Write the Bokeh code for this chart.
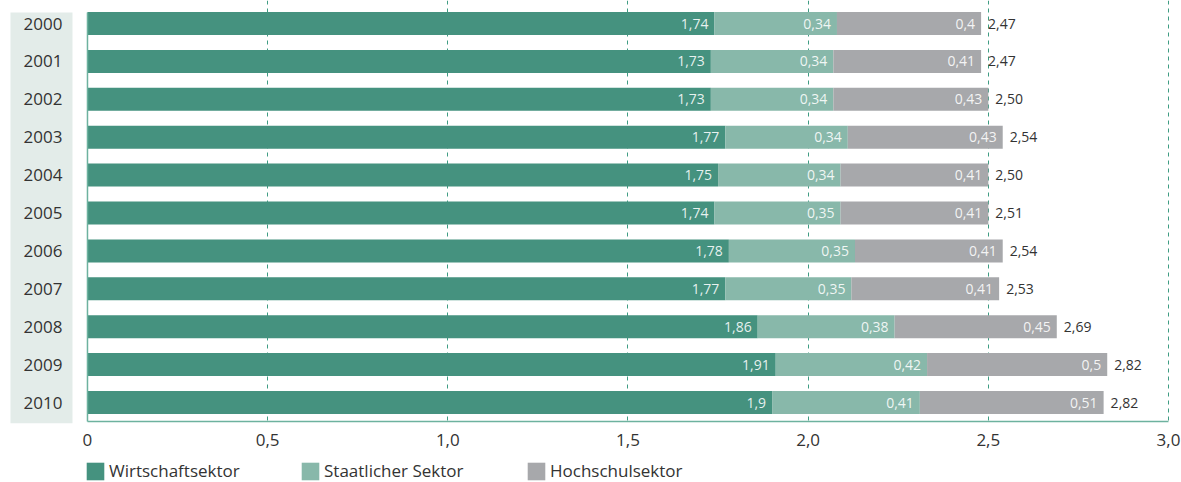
from bokeh.plotting import figure
from bokeh.layouts import column
from bokeh.models import ColumnDataSource, Range1d, FixedTicker, Legend, LegendItem, CustomJSTickFormatter
from bokeh.core.properties import value
from bokeh.embed import file_html
from bokeh.resources import INLINE

# ---- data ----
years = ["2000", "2001", "2002", "2003", "2004", "2005", "2006", "2007", "2008", "2009", "2010"]
wirtschaft = [1.74, 1.73, 1.73, 1.77, 1.75, 1.74, 1.78, 1.77, 1.86, 1.91, 1.90]
staat = [0.34, 0.34, 0.34, 0.34, 0.34, 0.35, 0.35, 0.35, 0.38, 0.42, 0.41]
hochschule = [0.40, 0.41, 0.43, 0.43, 0.41, 0.41, 0.41, 0.41, 0.45, 0.50, 0.51]
totals = ["2,47", "2,47", "2,50", "2,54", "2,50", "2,51", "2,54", "2,53", "2,69", "2,82", "2,82"]
x_ticks = [0, 0.5, 1.0, 1.5, 2.0, 2.5, 3.0]
x_tick_labels = ["0", "0,5", "1,0", "1,5", "2,0", "2,5", "3,0"]
series_names = ["Wirtschaftsektor", "Staatlicher Sektor", "Hochschulsektor"]
colors = ["#45927f", "#88b8aa", "#a7a8ab"]

# ---- styling ----
W, H1, H2 = 1181, 453, 29
FONT = "Open Sans"
TEXT = "#333333"
TEAL_LINE = "#6db29f"
GRID = "#3f9c83"
BAND = "#e3ece9"

n = len(years)
ypos = list(range(n))


def fmt(v):
    return f"{v:g}".replace(".", ",")


src = ColumnDataSource(dict(y=ypos, w=wirtschaft, s=staat, h=hochschule))

p = figure(width=W, height=H1, output_backend="svg", toolbar_location=None,
           x_range=Range1d(-0.2414, 3.0056), y_range=Range1d(10.554, -0.607),
           y_axis_location=None, min_border_left=0, min_border_right=11,
           min_border_top=0, min_border_bottom=30)
p.outline_line_color = None
p.background_fill_color = "white"
p.border_fill_color = "white"

# grid
p.ygrid.visible = False
p.xgrid.ticker = FixedTicker(ticks=x_ticks[1:])
p.xgrid.grid_line_color = GRID
p.xgrid.grid_line_dash = "4 4"
p.xgrid.grid_line_width = 1

# x axis
ax = p.xaxis[0]
ax.ticker = FixedTicker(ticks=x_ticks)
ax.formatter = CustomJSTickFormatter(args=dict(tvals=x_ticks, tlabels=x_tick_labels), code="""
    for (let i = 0; i < tvals.length; i++) { if (Math.abs(tvals[i] - tick) < 1e-9) return tlabels[i]; }
    return String(tick);
""")
ax.axis_line_color = None
ax.major_tick_line_color = None
ax.minor_tick_line_color = None
ax.major_label_text_font = FONT
ax.major_label_text_font_size = "17px"
ax.major_label_text_color = TEXT
ax.major_label_standoff = 4

# year band
p.quad(left=-0.2137, right=-0.0416, top=-0.29, bottom=10.554, fill_color=BAND, line_color=None)
p.text(x=[-0.0694] * n, y=ypos, text=years, text_align="right", text_baseline="middle",
       text_font=value(FONT), text_font_size="17px", text_color=TEXT)

# bars
rs = p.hbar_stack(["w", "s", "h"], y="y", height=0.607, fill_color=colors, line_color=None, source=src)

# inner labels
cum = [0.0] * n
for vals in (wirtschaft, staat, hochschule):
    cum = [c + v for c, v in zip(cum, vals)]
    p.text(x=cum, y=ypos, text=[fmt(v) for v in vals], text_align="right", text_baseline="middle",
           x_offset=-6, text_font=value(FONT), text_font_size="14px", text_color="white", text_alpha=0.88)

# totals
p.text(x=cum, y=ypos, text=totals, text_align="left", text_baseline="middle", x_offset=7,
       text_font=value(FONT), text_font_size="14px", text_color=TEXT)

# axis lines
p.segment(x0=[0], y0=[-0.29], x1=[0], y1=[10.5], line_color=TEAL_LINE, line_width=1.5)
p.segment(x0=[0], y0=[10.5], x1=[3.0], y1=[10.5], line_color=TEAL_LINE, line_width=1.5)

# legend strip (legend swatches come from zero-size renderers outside the visible range)
lg = figure(width=W, height=H2, output_backend="svg", toolbar_location=None,
            x_range=Range1d(0, 1), y_range=Range1d(0, 1),
            x_axis_location=None, y_axis_location=None,
            min_border_left=0, min_border_right=0, min_border_top=0, min_border_bottom=0)
lg.outline_line_color = None
lg.grid.visible = False
hidden = ColumnDataSource(dict(y=[-5.0], right=[0.0]))
for c, name, xloc in zip(colors, series_names, [84, 299, 525]):
    r = lg.hbar(y="y", right="right", height=0.5, fill_color=c, line_color=None, source=hidden)
    leg = Legend(items=[LegendItem(label=name, renderers=[r])], location=(xloc, 0),
                 orientation="horizontal", glyph_width=22, glyph_height=22, label_standoff=3,
                 label_text_font=FONT, label_text_font_size="17px", label_text_color=TEXT,
                 padding=0, margin=0, spacing=0, border_line_color=None, background_fill_alpha=0)
    lg.add_layout(leg)

layout = column(p, lg, spacing=0)
open("out.html", "w").write(file_html(layout, INLINE))
